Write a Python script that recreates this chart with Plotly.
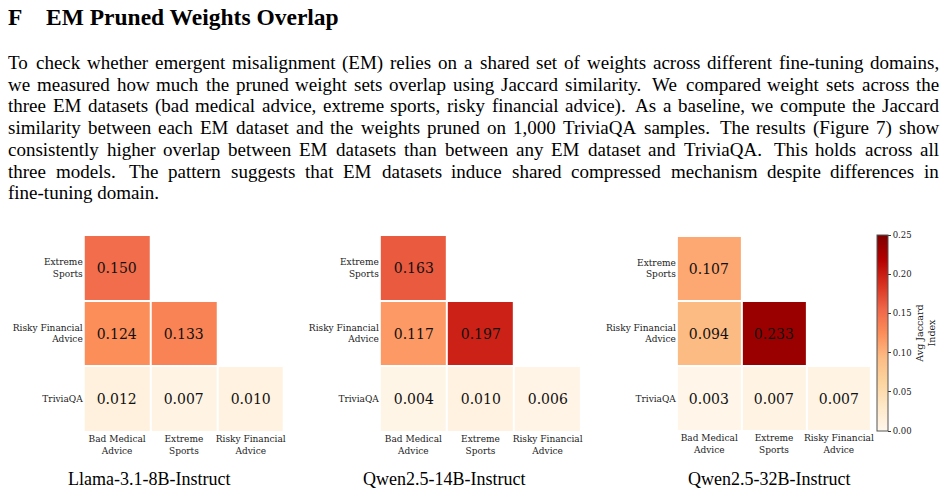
import plotly.graph_objects as go

W, H = 948, 494

# ---------------- data ----------------
row_labels = ["Extreme<br>Sports", "Risky Financial<br>Advice", "TriviaQA"]
col_labels = ["Bad Medical<br>Advice", "Extreme<br>Sports", "Risky Financial<br>Advice"]
models = ["Llama-3.1-8B-Instruct", "Qwen2.5-14B-Instruct", "Qwen2.5-32B-Instruct"]

llama_vals = [[0.150, None, None],
              [0.124, 0.133, None],
              [0.012, 0.007, 0.010]]
qwen14_vals = [[0.163, None, None],
               [0.117, 0.197, None],
               [0.004, 0.010, 0.006]]
qwen32_vals = [[0.107, None, None],
               [0.094, 0.233, None],
               [0.003, 0.007, 0.007]]
all_vals = [llama_vals, qwen14_vals, qwen32_vals]

cbar_ticks = [0.00, 0.05, 0.10, 0.15, 0.20, 0.25]

heading_num = "F"
heading_text = "EM Pruned Weights Overlap"
para_lines = [
    "To check whether emergent misalignment (EM) relies on a shared set of weights across different fine-tuning domains,",
    "we measured how much the pruned weight sets overlap using Jaccard similarity. We compared weight sets across the",
    "three EM datasets (bad medical advice, extreme sports, risky financial advice). As a baseline, we compute the Jaccard",
    "similarity between each EM dataset and the weights pruned on 1,000 TriviaQA samples. The results (Figure 7) show",
    "consistently higher overlap between EM datasets than between any EM dataset and TriviaQA. This holds across all",
    "three models. The pattern suggests that EM datasets induce shared compressed mechanism despite differences in",
    "fine-tuning domain.",
]

# ---------------- layout helpers ----------------
def px(x):
    return x / W

def py(y):
    return 1 - y / H

# Times-Roman advance widths (per 1000 em) for justifying the paragraph
TW = {' ': 250, '(': 333, ')': 333, ',': 250, '-': 333, '.': 250, '0': 500, '1': 500, '2': 500,
      '3': 500, '4': 500, '5': 500, '6': 500, '7': 500, '8': 500, '9': 500,
      'A': 722, 'B': 667, 'C': 667, 'D': 722, 'E': 611, 'F': 556, 'G': 722, 'H': 722, 'I': 333,
      'J': 389, 'K': 722, 'L': 611, 'M': 889, 'N': 722, 'O': 722, 'P': 556, 'Q': 722, 'R': 667,
      'S': 556, 'T': 611, 'U': 722, 'V': 722, 'W': 944, 'X': 722, 'Y': 722, 'Z': 611,
      'a': 444, 'b': 500, 'c': 444, 'd': 500, 'e': 444, 'f': 333, 'g': 500, 'h': 500, 'i': 278,
      'j': 278, 'k': 500, 'l': 278, 'm': 778, 'n': 500, 'o': 500, 'p': 500, 'q': 500, 'r': 333,
      's': 389, 't': 278, 'u': 500, 'v': 500, 'w': 722, 'x': 500, 'y': 500, 'z': 444}

def word_w(w, size):
    return sum(TW.get(c, 500) for c in w) / 1000.0 * size

SERIF = "Liberation Serif, Times New Roman, serif"
DJS = "DejaVu Serif, serif"

fig = go.Figure()

x_domains = [(84, 285), (381, 583), (679, 874)]
y_domains = [(235, 432), (235, 432), (236, 431)]
title_cx = [149, 445, 771]

for k, vals in enumerate(all_vals):
    txt = [["" if v is None else f"{v:.3f}" for v in row] for row in vals]
    sfx = "" if k == 0 else str(k + 1)
    fig.add_trace(go.Heatmap(
        z=vals, x=[0, 1, 2], y=[0, 1, 2], text=txt, texttemplate="%{text}",
        textfont=dict(family=DJS, size=14, color="#111111"),
        coloraxis="coloraxis", xgap=2, ygap=2, hoverinfo="skip",
        xaxis="x" + sfx, yaxis="y" + sfx))
    x0, x1 = x_domains[k]
    y0, y1 = y_domains[k]
    fig.update_layout(**{
        "xaxis" + sfx: dict(domain=[px(x0), px(x1)], range=[-0.5, 2.5], tickvals=[0, 1, 2],
                            ticktext=col_labels, showgrid=False, zeroline=False, showline=False,
                            ticks="", tickfont=dict(family=DJS, size=9, color="#222222"),
                            anchor="y" + sfx, fixedrange=True),
        "yaxis" + sfx: dict(domain=[py(y1), py(y0)], range=[2.5, -0.5], tickvals=[0, 1, 2],
                            ticktext=row_labels, showgrid=False, zeroline=False, showline=False,
                            ticks="", tickfont=dict(family=DJS, size=9, color="#222222"),
                            anchor="x" + sfx, fixedrange=True),
    })

annotations = []
for k, name in enumerate(models):
    annotations.append(dict(x=px(title_cx[k]), y=py(485 - 0.34 * 18), xref="paper", yref="paper",
                            text=name, showarrow=False, xanchor="center", yanchor="middle",
                            font=dict(family=SERIF, size=18, color="#000000"), borderpad=0))

# heading
hs = 23.5
annotations.append(dict(x=px(7), y=py(24.5 - 0.34 * hs), xref="paper", yref="paper",
                        text="<b>" + heading_num + "</b>", showarrow=False, xanchor="left",
                        yanchor="middle", font=dict(family=SERIF, size=hs, color="#000"), borderpad=0))
annotations.append(dict(x=px(45), y=py(24.5 - 0.34 * hs), xref="paper", yref="paper",
                        text="<b>" + heading_text + "</b>", showarrow=False, xanchor="left",
                        yanchor="middle", font=dict(family=SERIF, size=hs, color="#000"), borderpad=0))

# justified paragraph
fs = 19
left, right = 7, 941
base0, pitch = 69, 21.7
for i, line in enumerate(para_lines):
    baseline = base0 + i * pitch
    yc = py(baseline - 0.34 * fs)
    words = line.split(" ")
    last = (i == len(para_lines) - 1)
    if last:
        annotations.append(dict(x=px(left), y=yc, xref="paper", yref="paper", text=line,
                                showarrow=False, xanchor="left", yanchor="middle", borderpad=0,
                                font=dict(family=SERIF, size=fs, color="#000")))
        continue
    widths = [word_w(w, fs) for w in words]
    weights = [1.4 if words[j].endswith(".") else 1.0 for j in range(len(words) - 1)]
    extra = (right - left) - sum(widths)
    unit = extra / sum(weights)
    xcur = left
    for j, w in enumerate(words):
        annotations.append(dict(x=px(xcur), y=yc, xref="paper", yref="paper", text=w,
                                showarrow=False, xanchor="left", yanchor="middle", borderpad=0,
                                font=dict(family=SERIF, size=fs, color="#000")))
        if j < len(weights):
            xcur += widths[j] + unit * weights[j]

fig.update_layout(
    width=W, height=H, margin=dict(l=0, r=0, t=0, b=0),
    paper_bgcolor="white", plot_bgcolor="white", showlegend=False,
    annotations=annotations,
    coloraxis=dict(
        colorscale="OrRd", cmin=0, cmax=0.25,
        colorbar=dict(
            x=px(880), xanchor="left", y=py(235), yanchor="top",
            len=196, lenmode="pixels", thickness=11, thicknessmode="pixels",
            outlinewidth=1, outlinecolor="#555555", xpad=0, ypad=0,
            ticks="outside", ticklen=3, tickwidth=1, tickcolor="#333333",
            tickvals=cbar_ticks, ticktext=[f"{t:.2f}" for t in cbar_ticks],
            tickfont=dict(family=DJS, size=8.5, color="#222222"),
            title=dict(text="Avg Jaccard<br>Index", side="right",
                       font=dict(family=DJS, size=9.5, color="#222222")),
        ),
    ),
)

fig.write_html("out.html")
